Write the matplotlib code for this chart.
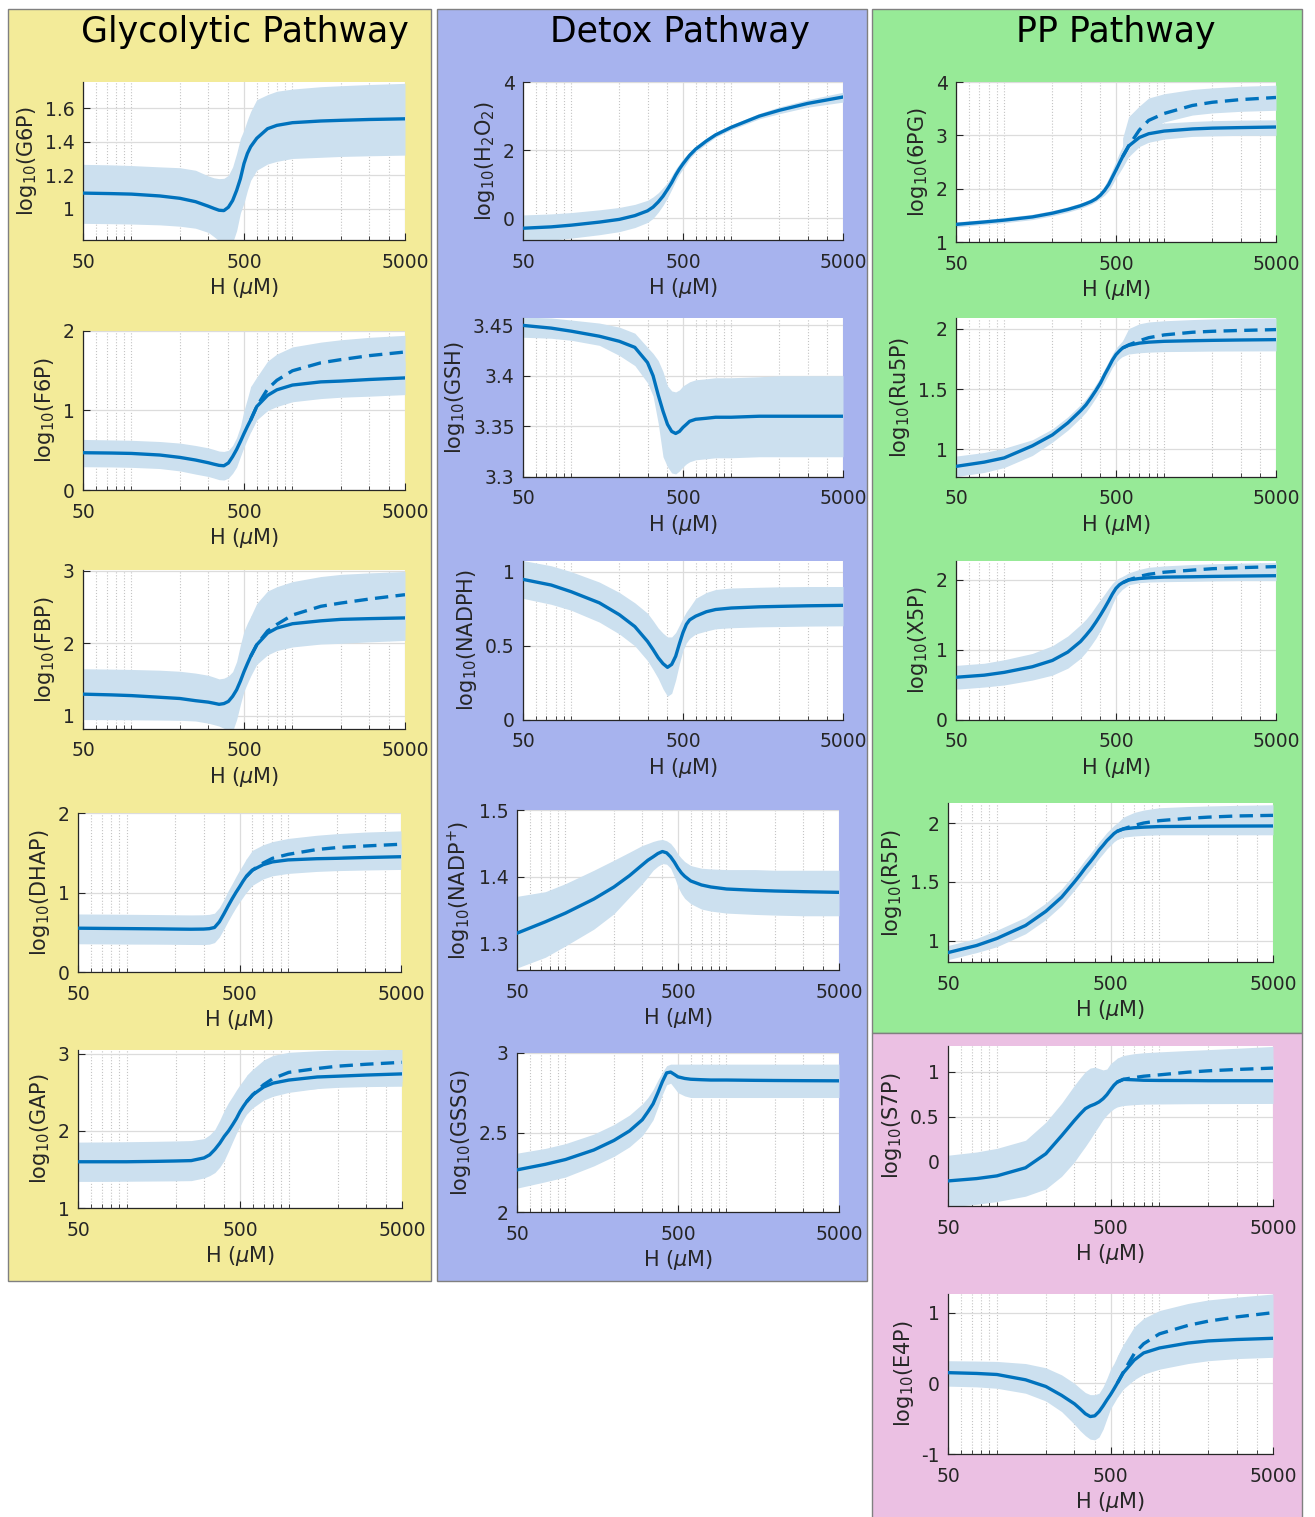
import numpy as np
import matplotlib.pyplot as plt
from matplotlib.patches import Rectangle
from matplotlib.ticker import LogLocator, NullFormatter, FormatStrFormatter

H = [50, 75, 100, 150, 200, 250, 300, 325, 350, 375, 400, 425, 450, 475, 500, 525, 550,
     600, 700, 800, 1000, 1500, 2000, 3000, 5000]
# the dashed curves only split from the solid ones above ~550 uM
H_d = [550, 600, 700, 800, 1000, 1500, 2000, 3000, 5000]

# ---------------------------- Glycolytic pathway ----------------------------
g6p = [1.094, 1.091, 1.088, 1.077, 1.063, 1.043, 1.016, 1.003, 0.992, 0.99, 1.01, 1.05, 1.11,
       1.18, 1.27, 1.33, 1.37, 1.42, 1.477, 1.497, 1.513, 1.523, 1.527, 1.532, 1.536]
g6p_hi = [1.265, 1.262, 1.258, 1.25, 1.245, 1.23, 1.196, 1.185, 1.18, 1.182, 1.20, 1.25, 1.33,
          1.42, 1.47, 1.53, 1.58, 1.65, 1.68, 1.70, 1.713, 1.727, 1.733, 1.74, 1.747]
g6p_lo = [0.914, 0.912, 0.91, 0.905, 0.897, 0.885, 0.86, 0.835, 0.81, 0.79, 0.78, 0.80, 0.87,
          0.976, 1.035, 1.11, 1.17, 1.23, 1.267, 1.283, 1.30, 1.307, 1.312, 1.316, 1.32]

f6p = [0.469, 0.465, 0.46, 0.44, 0.41, 0.377, 0.343, 0.325, 0.31, 0.305, 0.34, 0.42, 0.51,
       0.61, 0.71, 0.80, 0.88, 1.05, 1.19, 1.26, 1.32, 1.36, 1.37, 1.39, 1.41]
f6p_hi = [0.636, 0.63, 0.625, 0.61, 0.59, 0.56, 0.53, 0.51, 0.49, 0.485, 0.50, 0.56, 0.66,
          0.80, 1.0, 1.15, 1.30, 1.35, 1.40, 1.46, 1.52, 1.57, 1.59, 1.61, 1.62]
f6p_lo = [0.293, 0.29, 0.285, 0.27, 0.24, 0.2, 0.17, 0.15, 0.13, 0.125, 0.15, 0.21, 0.29,
          0.42, 0.54, 0.64, 0.73, 0.88, 1.0, 1.05, 1.11, 1.15, 1.167, 1.18, 1.20]
f6p_d = [0.88, 1.05, 1.27, 1.38, 1.50, 1.60, 1.64, 1.69, 1.736]
f6p_d_hi = [1.3, 1.42, 1.62, 1.71, 1.80, 1.86, 1.89, 1.92, 1.946]
f6p_d_lo = [0.73, 0.9, 1.0, 1.1, 1.2, 1.3, 1.35, 1.4, 1.5]

fbp = [1.30, 1.29, 1.28, 1.257, 1.24, 1.21, 1.19, 1.175, 1.16, 1.17, 1.20, 1.27, 1.36,
       1.48, 1.61, 1.72, 1.82, 1.98, 2.14, 2.21, 2.27, 2.31, 2.33, 2.34, 2.35]
fbp_hi = [1.65, 1.645, 1.64, 1.63, 1.615, 1.59, 1.56, 1.535, 1.51, 1.52, 1.55, 1.61, 1.75,
          1.98, 2.17, 2.28, 2.37, 2.45, 2.5, 2.55, 2.6, 2.63, 2.645, 2.655, 2.66]
fbp_lo = [0.95, 0.948, 0.946, 0.943, 0.94, 0.93, 0.9, 0.88, 0.86, 0.83, 0.8, 0.79, 0.95,
          1.16, 1.34, 1.45, 1.55, 1.71, 1.84, 1.9, 1.95, 1.99, 2.0, 2.02, 2.04]
fbp_d = [1.82, 1.98, 2.17, 2.26, 2.39, 2.51, 2.555, 2.61, 2.67]
fbp_d_hi = [2.37, 2.55, 2.72, 2.78, 2.85, 2.92, 2.95, 2.97, 2.99]
fbp_d_lo = [1.6, 1.8, 1.9, 1.95, 2.0, 2.05, 2.1, 2.15, 2.2]

dhap = [0.551, 0.548, 0.546, 0.543, 0.54, 0.538, 0.54, 0.545, 0.56, 0.63, 0.73, 0.83, 0.92,
        1.0, 1.07, 1.14, 1.2, 1.28, 1.35, 1.385, 1.41, 1.425, 1.43, 1.44, 1.45]
dhap_hi = [0.73, 0.728, 0.726, 0.723, 0.72, 0.718, 0.72, 0.725, 0.74, 0.81, 0.91, 1.02, 1.11,
           1.2, 1.28, 1.35, 1.42, 1.46, 1.52, 1.55, 1.57, 1.585, 1.59, 1.60, 1.61]
dhap_lo = [0.355, 0.353, 0.351, 0.35, 0.348, 0.346, 0.345, 0.35, 0.37, 0.44, 0.54, 0.64, 0.73,
           0.81, 0.88, 0.94, 1.0, 1.09, 1.17, 1.21, 1.24, 1.265, 1.275, 1.283, 1.29]
dhap_d = [1.2, 1.28, 1.37, 1.43, 1.48, 1.54, 1.565, 1.585, 1.607]
dhap_d_hi = [1.42, 1.53, 1.6, 1.64, 1.68, 1.72, 1.74, 1.76, 1.775]
dhap_d_lo = [1.0, 1.1, 1.2, 1.25, 1.3, 1.35, 1.38, 1.41, 1.44]

gap = [1.60, 1.60, 1.60, 1.605, 1.61, 1.615, 1.65, 1.69, 1.76, 1.84, 1.93, 2.0, 2.08,
       2.16, 2.25, 2.32, 2.38, 2.47, 2.57, 2.62, 2.66, 2.70, 2.71, 2.725, 2.74]
gap_hi = [1.855, 1.857, 1.86, 1.865, 1.87, 1.875, 1.9, 1.95, 2.02, 2.14, 2.27, 2.37, 2.45,
          2.53, 2.6, 2.66, 2.72, 2.8, 2.85, 2.86, 2.87, 2.88, 2.89, 2.895, 2.9]
gap_lo = [1.345, 1.345, 1.347, 1.35, 1.352, 1.355, 1.39, 1.42, 1.46, 1.53, 1.62, 1.74, 1.86,
          1.97, 2.06, 2.15, 2.22, 2.32, 2.42, 2.47, 2.52, 2.55, 2.565, 2.575, 2.58]
gap_d = [2.38, 2.47, 2.6, 2.68, 2.76, 2.81, 2.84, 2.865, 2.89]
gap_d_hi = [2.72, 2.8, 2.92, 2.98, 3.02, 3.04, 3.05, 3.05, 3.06]
gap_d_lo = [2.22, 2.3, 2.4, 2.45, 2.5, 2.55, 2.6, 2.62, 2.64]

# ------------------------------ Detox pathway -------------------------------
h2o2 = [-0.29, -0.25, -0.2, -0.11, -0.03, 0.08, 0.22, 0.33, 0.48, 0.65, 0.85, 1.05, 1.27,
        1.45, 1.6, 1.73, 1.85, 2.03, 2.27, 2.45, 2.67, 3.0, 3.17, 3.37, 3.56]
h2o2_hi = [0.1, 0.13, 0.17, 0.25, 0.32, 0.41, 0.53, 0.63, 0.75, 0.9, 1.05, 1.25, 1.45,
           1.6, 1.75, 1.85, 1.95, 2.12, 2.35, 2.52, 2.74, 3.08, 3.27, 3.48, 3.7]
h2o2_lo = [-0.68, -0.64, -0.58, -0.48, -0.39, -0.27, -0.12, 0.0, 0.18, 0.38, 0.6, 0.85, 1.1,
           1.3, 1.45, 1.6, 1.75, 1.94, 2.19, 2.38, 2.6, 2.92, 3.07, 3.26, 3.41]

gsh = [3.4497, 3.447, 3.444, 3.439, 3.434, 3.428, 3.413, 3.40, 3.381, 3.365, 3.352, 3.345,
       3.343, 3.345, 3.349, 3.352, 3.355, 3.357, 3.358, 3.359, 3.359, 3.36, 3.36, 3.36, 3.36]
gsh_hi = [3.458, 3.457, 3.455, 3.452, 3.448, 3.442, 3.428, 3.422, 3.415, 3.404, 3.39, 3.385,
          3.384, 3.386, 3.39, 3.392, 3.394, 3.396, 3.397, 3.398, 3.398, 3.399, 3.4, 3.4, 3.4]
gsh_lo = [3.438, 3.437, 3.435, 3.43, 3.42, 3.41, 3.393, 3.38, 3.353, 3.32, 3.31, 3.304,
          3.303, 3.306, 3.31, 3.313, 3.315, 3.317, 3.318, 3.319, 3.319, 3.32, 3.32, 3.32, 3.32]

nadph = [0.948, 0.91, 0.865, 0.79, 0.71, 0.63, 0.53, 0.475, 0.42, 0.38, 0.355, 0.375, 0.43,
         0.515, 0.59, 0.645, 0.675, 0.7, 0.73, 0.745, 0.755, 0.763, 0.766, 0.77, 0.773]
nadph_hi = [1.075, 1.04, 1.0, 0.93, 0.86, 0.79, 0.72, 0.67, 0.62, 0.585, 0.56, 0.56, 0.59,
            0.64, 0.69, 0.73, 0.76, 0.82, 0.86, 0.88, 0.89, 0.895, 0.898, 0.9, 0.9]
nadph_lo = [0.82, 0.78, 0.74, 0.66, 0.58, 0.5, 0.4, 0.34, 0.28, 0.21, 0.16, 0.18, 0.27,
            0.38, 0.47, 0.52, 0.55, 0.58, 0.6, 0.615, 0.622, 0.628, 0.63, 0.633, 0.635]

nadpp = [1.316, 1.333, 1.346, 1.367, 1.385, 1.402, 1.418, 1.425, 1.43, 1.435, 1.438, 1.436,
         1.43, 1.422, 1.413, 1.406, 1.401, 1.394, 1.388, 1.385, 1.382, 1.38, 1.379, 1.378, 1.377]
nadpp_hi = [1.371, 1.378, 1.39, 1.41, 1.425, 1.437, 1.447, 1.45, 1.453, 1.455, 1.456, 1.454,
            1.45, 1.443, 1.434, 1.428, 1.423, 1.417, 1.413, 1.412, 1.411, 1.411, 1.41, 1.41, 1.41]
nadpp_lo = [1.264, 1.28, 1.297, 1.322, 1.345, 1.37, 1.39, 1.40, 1.41, 1.416, 1.42, 1.419,
            1.413, 1.40, 1.385, 1.375, 1.368, 1.36, 1.352, 1.349, 1.346, 1.344, 1.343, 1.342, 1.342]

gssg = [2.265, 2.3, 2.33, 2.39, 2.45, 2.51, 2.58, 2.63, 2.68, 2.75, 2.82, 2.875, 2.88,
        2.865, 2.85, 2.845, 2.84, 2.835, 2.832, 2.83, 2.83, 2.828, 2.827, 2.826, 2.825]
gssg_hi = [2.37, 2.4, 2.43, 2.49, 2.55, 2.61, 2.68, 2.72, 2.77, 2.83, 2.88, 2.92, 2.93,
           2.93, 2.93, 2.93, 2.93, 2.93, 2.93, 2.93, 2.93, 2.93, 2.93, 2.93, 2.93]
gssg_lo = [2.15, 2.19, 2.22, 2.29, 2.35, 2.41, 2.48, 2.53, 2.58, 2.66, 2.74, 2.8, 2.81,
           2.78, 2.75, 2.74, 2.73, 2.72, 2.72, 2.72, 2.72, 2.72, 2.72, 2.72, 2.72]

# -------------------------------- PP pathway --------------------------------
pg6 = [1.33, 1.375, 1.41, 1.47, 1.54, 1.61, 1.68, 1.72, 1.76, 1.81, 1.88, 1.97, 2.08,
       2.22, 2.35, 2.48, 2.6, 2.8, 2.96, 3.03, 3.08, 3.12, 3.135, 3.145, 3.156]
pg6_hi = [1.38, 1.42, 1.46, 1.52, 1.59, 1.66, 1.73, 1.77, 1.81, 1.87, 1.95, 2.06, 2.2,
          2.36, 2.52, 2.67, 2.8, 2.98, 3.13, 3.19, 3.23, 3.26, 3.275, 3.285, 3.29]
pg6_lo = [1.28, 1.33, 1.36, 1.42, 1.49, 1.56, 1.63, 1.67, 1.71, 1.76, 1.82, 1.88, 1.96,
          2.08, 2.2, 2.3, 2.4, 2.6, 2.79, 2.87, 2.93, 2.98, 2.99, 3.0, 3.0]
pg6_d = [2.6, 2.8, 3.1, 3.28, 3.41, 3.56, 3.62, 3.67, 3.71]
pg6_d_hi = [2.95, 3.35, 3.55, 3.7, 3.78, 3.86, 3.89, 3.92, 3.94]
pg6_d_lo = [2.45, 2.7, 2.95, 3.1, 3.25, 3.38, 3.42, 3.45, 3.47]

ru5p = [0.86, 0.895, 0.93, 1.03, 1.12, 1.22, 1.32, 1.37, 1.43, 1.49, 1.55, 1.62, 1.68,
        1.74, 1.785, 1.815, 1.84, 1.862, 1.88, 1.888, 1.895, 1.9, 1.903, 1.906, 1.909]
ru5p_hi = [0.945, 0.975, 1.01, 1.08, 1.17, 1.27, 1.37, 1.42, 1.48, 1.54, 1.6, 1.67, 1.73,
           1.79, 1.84, 1.87, 1.9, 1.93, 1.95, 1.96, 1.97, 1.975, 1.98, 1.985, 1.99]
ru5p_lo = [0.775, 0.81, 0.85, 0.95, 1.06, 1.16, 1.26, 1.31, 1.37, 1.43, 1.49, 1.56, 1.62,
           1.68, 1.72, 1.75, 1.77, 1.79, 1.80, 1.805, 1.81, 1.812, 1.814, 1.815, 1.816]
ru5p_d = [1.84, 1.865, 1.9, 1.925, 1.948, 1.97, 1.978, 1.985, 1.992]
ru5p_d_hi = [1.9, 2.0, 2.04, 2.055, 2.065, 2.075, 2.08, 2.085, 2.088]
ru5p_d_lo = [1.77, 1.8, 1.82, 1.84, 1.86, 1.88, 1.89, 1.9, 1.9]

x5p = [0.61, 0.64, 0.68, 0.76, 0.85, 0.97, 1.12, 1.21, 1.3, 1.4, 1.5, 1.6, 1.7,
       1.8, 1.88, 1.93, 1.96, 2.0, 2.02, 2.03, 2.04, 2.045, 2.05, 2.055, 2.06]
x5p_hi = [0.78, 0.81, 0.86, 0.95, 1.06, 1.2, 1.36, 1.44, 1.53, 1.63, 1.72, 1.8, 1.88,
          1.95, 2.0, 2.03, 2.05, 2.07, 2.09, 2.1, 2.105, 2.11, 2.115, 2.12, 2.12]
x5p_lo = [0.44, 0.47, 0.5, 0.57, 0.64, 0.74, 0.88, 0.97, 1.07, 1.17, 1.28, 1.4, 1.52,
          1.65, 1.76, 1.82, 1.87, 1.93, 1.96, 1.97, 1.975, 1.98, 1.985, 1.99, 1.99]
x5p_d = [1.96, 2.0, 2.05, 2.08, 2.11, 2.14, 2.16, 2.175, 2.19]
x5p_d_hi = [2.05, 2.1, 2.15, 2.18, 2.2, 2.22, 2.23, 2.24, 2.25]
x5p_d_lo = [1.87, 1.95, 2.0, 2.03, 2.06, 2.08, 2.09, 2.1, 2.11]

r5p = [0.9, 0.96, 1.02, 1.13, 1.25, 1.37, 1.5, 1.56, 1.62, 1.67, 1.72, 1.77, 1.81,
       1.85, 1.88, 1.91, 1.93, 1.95, 1.96, 1.965, 1.97, 1.972, 1.973, 1.974, 1.975]
r5p_hi = [0.96, 1.02, 1.09, 1.2, 1.32, 1.44, 1.57, 1.63, 1.69, 1.74, 1.79, 1.84, 1.88,
          1.92, 1.95, 1.98, 2.0, 2.02, 2.035, 2.04, 2.045, 2.05, 2.05, 2.05, 2.05]
r5p_lo = [0.84, 0.9, 0.95, 1.06, 1.18, 1.3, 1.43, 1.49, 1.55, 1.6, 1.65, 1.7, 1.74,
          1.78, 1.81, 1.84, 1.86, 1.88, 1.89, 1.895, 1.9, 1.9, 1.9, 1.9, 1.9]
r5p_d = [1.93, 1.95, 1.98, 2.0, 2.02, 2.04, 2.05, 2.06, 2.065]
r5p_d_hi = [2.0, 2.05, 2.09, 2.11, 2.13, 2.14, 2.145, 2.15, 2.155]
r5p_d_lo = [1.86, 1.9, 1.92, 1.94, 1.95, 1.96, 1.97, 1.975, 1.98]

# non-oxidative branch (pink box)
s7p = [-0.211, -0.185, -0.155, -0.065, 0.09, 0.29, 0.46, 0.53, 0.59, 0.62, 0.64, 0.665, 0.7,
       0.745, 0.8, 0.85, 0.885, 0.915, 0.91, 0.905, 0.903, 0.902, 0.9, 0.9, 0.9]
s7p_hi = [0.074, 0.11, 0.15, 0.24, 0.44, 0.65, 0.85, 0.93, 1.0, 1.04, 1.05, 1.035, 1.02,
          1.03, 1.09, 1.12, 1.15, 1.16, 1.16, 1.155, 1.155, 1.15, 1.15, 1.15, 1.15]
s7p_lo = [-0.5, -0.47, -0.44, -0.38, -0.3, -0.16, 0.0, 0.09, 0.17, 0.25, 0.33, 0.4, 0.47,
          0.52, 0.56, 0.59, 0.61, 0.625, 0.635, 0.64, 0.642, 0.645, 0.646, 0.647, 0.648]
s7p_d = [0.885, 0.915, 0.935, 0.95, 0.965, 0.995, 1.01, 1.025, 1.04]
s7p_d_hi = [1.15, 1.18, 1.2, 1.21, 1.22, 1.235, 1.245, 1.26, 1.28]
s7p_d_lo = [0.61, 0.65, 0.68, 0.7, 0.72, 0.75, 0.76, 0.78, 0.8]

e4p = [0.151, 0.14, 0.125, 0.05, -0.045, -0.17, -0.29, -0.36, -0.43, -0.47, -0.46, -0.40,
       -0.32, -0.235, -0.16, -0.08, 0.0, 0.15, 0.33, 0.43, 0.5, 0.57, 0.6, 0.62, 0.637]
e4p_hi = [0.32, 0.315, 0.31, 0.28, 0.22, 0.12, 0.0, -0.07, -0.13, -0.16, -0.16, -0.14,
          -0.05, 0.07, 0.2, 0.28, 0.38, 0.55, 0.7, 0.78, 0.83, 0.87, 0.88, 0.89, 0.9]
e4p_lo = [-0.04, -0.05, -0.07, -0.14, -0.25, -0.4, -0.58, -0.67, -0.74, -0.79, -0.8, -0.76,
          -0.65, -0.5, -0.36, -0.28, -0.2, -0.08, 0.05, 0.13, 0.2, 0.28, 0.32, 0.35, 0.368]
e4p_d = [0.0, 0.16, 0.42, 0.56, 0.7, 0.82, 0.88, 0.94, 1.0]
e4p_d_hi = [0.38, 0.55, 0.8, 0.92, 1.03, 1.13, 1.18, 1.22, 1.264]
e4p_d_lo = [-0.2, 0.0, 0.2, 0.3, 0.4, 0.5, 0.55, 0.6, 0.65]

LINE = '#0072BD'
BAND = '#CCE0EF'
TXT = '#262626'
W, HPX = 1315, 1517


def px_rect(x0, y0, x1, y1):
    # pixel box (top-left origin) -> figure fraction [l, b, w, h]
    return [x0 / W, 1 - y1 / HPX, (x1 - x0) / W, (y1 - y0) / HPX]


def draw_panel(ax, mean, lo, hi, ylabel, ylim, yticks, dashed=None):
    ax.fill_between(H, lo, hi, color=BAND, lw=0, zorder=1)
    if dashed is not None:
        ax.fill_between(H_d, dashed[1], dashed[2], color=BAND, lw=0, zorder=1)
    ax.plot(H, mean, color=LINE, lw=2.4, zorder=3)
    if dashed is not None:
        ax.plot(H_d, dashed[0], color=LINE, lw=2.4, ls=(0, (4, 2.2)), zorder=3)

    ax.set_xscale('log')
    ax.set_xlim(50, 5000)
    ax.set_ylim(*ylim)
    ax.set_xticks([50, 500, 5000])
    ax.set_xticklabels(['50', '500', '5000'])
    ax.xaxis.set_minor_locator(LogLocator(base=10, subs=np.arange(1, 10)))
    ax.xaxis.set_minor_formatter(NullFormatter())
    ax.set_yticks(yticks)
    ax.yaxis.set_major_formatter(FormatStrFormatter('%g'))

    ax.set_axisbelow(True)
    ax.grid(True, which='major', color='#dcdcdc', lw=0.9)
    ax.grid(True, which='minor', axis='x', color='#c4c4c4', lw=0.8, ls=':')
    for s in ['top', 'right']:
        ax.spines[s].set_visible(False)
    for s in ['left', 'bottom']:
        ax.spines[s].set_color(TXT)
        ax.spines[s].set_linewidth(0.9)
    ax.tick_params(which='major', direction='in', length=5, width=0.8, colors=TXT,
                   labelsize=13.5)
    ax.tick_params(axis='x', which='major', pad=9)
    ax.tick_params(axis='y', which='major', pad=6)
    ax.tick_params(which='minor', direction='in', length=3, width=0.6, colors=TXT)
    ax.set_xlabel(r'H ($\mu$M)', fontsize=15, color=TXT, labelpad=3)
    ax.set_ylabel(ylabel, fontsize=15, color=TXT, labelpad=4)


fig = plt.figure(figsize=(W / 100, HPX / 100), dpi=100)

# ------------------------------ coloured boxes ------------------------------
boxes = [((8, 9, 431, 1281), '#F3EB99'),
         ((437, 9, 867, 1281), '#A7B3EE'),
         ((872, 9, 1302, 1033), '#97EA97'),
         ((872, 1033, 1302, 1530), '#EBC0E3')]
for (x0, y0, x1, y1), col in boxes:
    l, b, w, h = px_rect(x0, y0, x1, y1)
    fig.add_artist(Rectangle((l, b), w, h, transform=fig.transFigure, facecolor=col,
                             edgecolor='#808080', lw=1, zorder=-5))

fig.text(245 / W, 1 - 32 / HPX, 'Glycolytic Pathway', ha='center', va='center', fontsize=25)
fig.text(680 / W, 1 - 32 / HPX, 'Detox Pathway', ha='center', va='center', fontsize=25)
fig.text(1116 / W, 1 - 32 / HPX, 'PP Pathway', ha='center', va='center', fontsize=25)

# ------------------------------ panels --------------------------------------
panels = [
    # glycolytic
    ((83, 82, 405, 240), g6p, g6p_lo, g6p_hi, None,
     r'log$_{10}$(G6P)', (0.815, 1.755), [1, 1.2, 1.4, 1.6]),
    ((83, 331, 405, 490), f6p, f6p_lo, f6p_hi, (f6p_d, f6p_d_lo, f6p_d_hi),
     r'log$_{10}$(F6P)', (0, 2), [0, 1, 2]),
    ((83, 570, 405, 729), fbp, fbp_lo, fbp_hi, (fbp_d, fbp_d_lo, fbp_d_hi),
     r'log$_{10}$(FBP)', (0.82, 3.01), [1, 2, 3]),
    ((78, 813, 401, 972), dhap, dhap_lo, dhap_hi, (dhap_d, dhap_d_lo, dhap_d_hi),
     r'log$_{10}$(DHAP)', (0, 2), [0, 1, 2]),
    ((78, 1050, 402, 1208), gap, gap_lo, gap_hi, (gap_d, gap_d_lo, gap_d_hi),
     r'log$_{10}$(GAP)', (1, 3.05), [1, 2, 3]),
    # detox
    ((523, 82, 843, 240), h2o2, h2o2_lo, h2o2_hi, None,
     r'log$_{10}$(H$_2$O$_2$)', (-0.635, 4), [0, 2, 4]),
    ((523, 318, 843, 477), gsh, gsh_lo, gsh_hi, None,
     r'log$_{10}$(GSH)', (3.3, 3.457), [3.3, 3.35, 3.4, 3.45]),
    ((523, 561, 843, 720), nadph, nadph_lo, nadph_hi, None,
     r'log$_{10}$(NADPH)', (0, 1.072), [0, 0.5, 1]),
    ((517, 810, 839, 970), nadpp, nadpp_lo, nadpp_hi, None,
     r'log$_{10}$(NADP$^{+}$)', (1.261, 1.5), [1.3, 1.4, 1.5]),
    ((517, 1053, 839, 1212), gssg, gssg_lo, gssg_hi, None,
     r'log$_{10}$(GSSG)', (2, 3), [2, 2.5, 3]),
    # pentose phosphate
    ((956, 82, 1276, 242), pg6, pg6_lo, pg6_hi, (pg6_d, pg6_d_lo, pg6_d_hi),
     r'log$_{10}$(6PG)', (1, 4), [1, 2, 3, 4]),
    ((956, 318, 1276, 477), ru5p, ru5p_lo, ru5p_hi, (ru5p_d, ru5p_d_lo, ru5p_d_hi),
     r'log$_{10}$(Ru5P)', (0.772, 2.088), [1, 1.5, 2]),
    ((956, 561, 1276, 720), x5p, x5p_lo, x5p_hi, (x5p_d, x5p_d_lo, x5p_d_hi),
     r'log$_{10}$(X5P)', (0, 2.27), [0, 1, 2]),
    ((948, 803, 1273, 962), r5p, r5p_lo, r5p_hi, (r5p_d, r5p_d_lo, r5p_d_hi),
     r'log$_{10}$(R5P)', (0.82, 2.17), [1, 1.5, 2]),
    ((948, 1046, 1273, 1206), s7p, s7p_lo, s7p_hi, (s7p_d, s7p_d_lo, s7p_d_hi),
     r'log$_{10}$(S7P)', (-0.489, 1.285), [0, 0.5, 1]),
    ((948, 1294, 1273, 1454), e4p, e4p_lo, e4p_hi, (e4p_d, e4p_d_lo, e4p_d_hi),
     r'log$_{10}$(E4P)', (-1, 1.264), [-1, 0, 1]),
]

for box, mean, lo, hi, dashed, ylabel, ylim, yticks in panels:
    ax = fig.add_axes(px_rect(*box))
    ax.set_facecolor('white')
    draw_panel(ax, mean, lo, hi, ylabel, ylim, yticks, dashed)

fig.savefig('out.png', dpi=100)
